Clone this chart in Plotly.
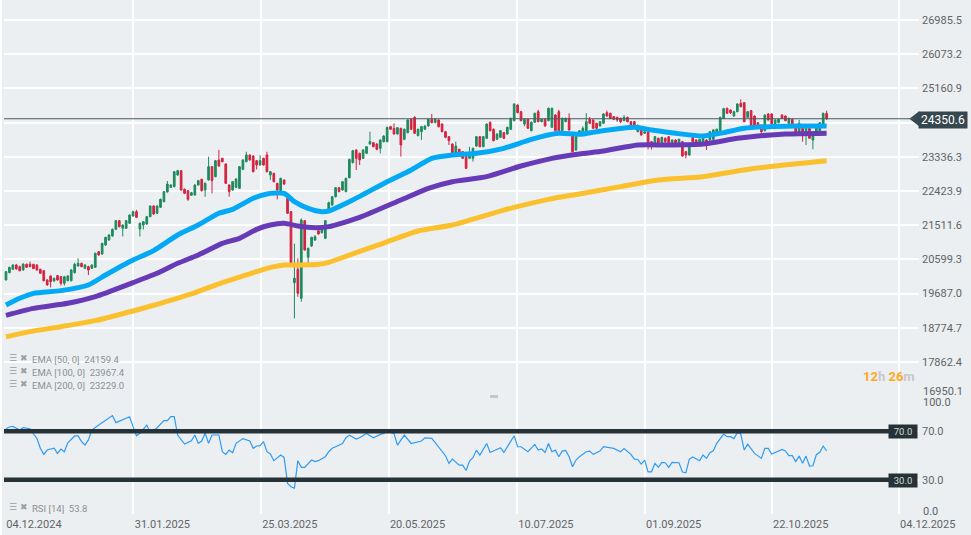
import plotly.graph_objects as go

opens = [20049,20245,20334,20449,20405,20316,20467,20467,20467,20449,20334,20298,
20049,20156,20022,20165,20138,19960,20031,20031,20245,20423,20494,20360,
20405,20360,20387,20805,20743,20983,21116,21223,21401,21632,21427,21427,
21561,21757,21872,21410,21516,21543,21739,22023,21828,21988,22139,22397,
22521,22539,22850,22966,22468,22432,22308,22317,22584,22735,22450,22717,
23073,22806,23251,23295,23144,22584,22450,22521,22495,23002,23206,23384,
23357,23233,23117,23295,23384,22850,22895,22628,22432,22717,22228,21872,
19978,20334,19560,21632,20654,20956,21116,21365,21312,21161,21872,22050,
22272,22512,22450,22406,22779,23179,23517,23428,23295,23428,23677,23713,
23677,23562,23740,23740,24140,24095,23944,24095,23802,23980,24335,24389,
23900,24006,24069,24158,24335,24246,24318,24211,24006,23873,23677,23428,
23535,23473,23339,23295,23295,23624,23873,23606,23829,24255,24069,23802,
23855,23980,23944,24069,24300,24718,24540,24211,24335,24033,24255,24540,
24273,24335,24300,24122,24451,24540,24033,24273,24362,23962,23517,23962,
23980,24006,24335,24318,24229,24158,24229,24513,24496,24407,24389,24362,
24300,24389,24273,24273,24006,24051,23962,24006,23740,23713,23829,23713,
23829,23873,23713,23784,23713,23740,23473,23384,23846,23784,23713,23713,
23784,23784,23802,23962,24033,24362,24629,24584,24424,24540,24762,24780,
24389,24567,24424,24246,24184,24033,24478,24478,24184,24246,24451,24424,
24229,24335,24122,24006,24095,24006,24095,23784,23944,24006,24211,24496]
closes = [20271,20387,20449,20343,20298,20476,20387,20405,20352,20316,20227,20031,
19916,20005,20094,20049,19960,20138,20156,20316,20467,20494,20405,20449,
20316,20449,20761,20716,21027,21187,21250,21401,21632,21472,21516,21632,
21783,21872,21721,21561,21605,21739,22023,21810,22023,22201,22406,22610,
22584,22939,22966,22450,22361,22201,22379,22584,22699,22432,22628,23073,
22699,23233,23091,23206,22628,22406,22673,22744,23073,23251,23384,23251,
22939,23117,23233,23117,22939,22939,22673,22450,22761,22610,21828,20494,
20094,19693,21650,20850,20894,21187,21205,21276,21427,21632,22112,22272,
22512,22406,22672,22761,23268,23499,23295,23250,23517,23606,23740,23606,
23535,23784,23891,24122,24069,23944,24113,23651,24069,24318,24069,23962,
24069,24140,24158,24335,24246,24335,24140,24006,23855,23766,23446,23624,
23428,23295,23028,23428,23562,23873,23606,23873,24211,24033,23766,23944,
24033,23829,24122,24362,24745,24513,24300,24335,24095,24255,24496,24273,
24335,24158,24629,24629,24033,24033,24362,24362,24051,23473,23873,24033,
24095,24273,24229,24095,24095,24273,24478,24424,24362,24335,24318,24273,
24389,24273,24184,24158,24095,23917,24006,23695,23695,23873,23713,23855,
23740,23713,23784,23713,23802,23357,23384,23588,23740,23713,23802,23829,
23713,24006,24051,24069,24389,24620,24496,24513,24540,24745,24673,24273,
24540,24158,24184,24158,24006,24451,24318,24211,24318,24335,24362,24300,
24362,24211,24006,24229,24006,24095,23829,23962,24095,24246,24496,24350]
highs = [20290,20400,20470,20480,20430,20490,20490,20540,20480,20470,20350,20310,
20070,20170,20110,20180,20150,20160,20180,20340,20510,20630,20510,20470,
20430,20470,20780,20820,21040,21200,21270,21420,21650,21650,21530,21650,
21800,21900,21920,21580,21620,21760,22040,22040,22040,22220,22420,22690,
22600,22950,22990,22980,22490,22450,22400,22600,22720,22750,22650,23340,
23090,23250,23520,23310,23160,22600,22690,22760,23090,23270,23470,23400,
23370,23250,23380,23310,23470,22950,22910,22640,22780,22730,22250,21890,
21020,20630,21690,21650,20910,21200,21250,21380,21500,21650,22140,22290,
22530,22530,22690,22780,23280,23520,23535,23445,23535,23625,24006,23730,
23700,23800,23910,24140,24160,24229,24130,24110,24090,24335,24350,24420,
24090,24160,24175,24350,24478,24360,24335,24230,24025,23890,23695,23740,
23555,23490,23355,23605,23580,23890,23890,23890,24230,24275,24090,23960,
24050,24000,24140,24380,24760,24735,24560,24355,24355,24275,24510,24590,
24355,24355,24650,24650,24470,24590,24380,24380,24495,23980,23890,24050,
24150,24500,24400,24335,24245,24290,24495,24570,24510,24425,24405,24380,
24450,24405,24290,24290,24200,24070,24020,24025,23755,23890,23845,23870,
23855,23890,23800,23805,23820,23760,23490,23605,23865,23805,23820,23845,
23805,24025,24070,24090,24405,24640,24650,24600,24560,24765,24870,24795,
24560,24585,24440,24265,24200,24470,24495,24495,24335,24355,24470,24440,
24380,24355,24140,24318,24110,24110,24110,23980,24110,24265,24515,24567]
lows = [20040,20230,20320,20330,20280,20300,20370,20390,20340,20300,20210,20010,
19900,19850,20000,20030,19900,19900,20010,20010,20220,20400,20390,20340,
20180,20340,20370,20700,20720,20960,21100,21200,21380,21450,21210,21410,
21540,21740,21700,21210,21400,21520,21720,21790,21810,21970,22120,22380,
22510,22520,22830,22430,22340,22160,22290,22300,22570,22410,22270,22700,
22360,22790,23070,23190,22610,22270,22430,22500,22480,22980,23190,23230,
22920,23000,23100,23100,22920,22720,22650,22200,22410,22590,21810,20470,
19027,19600,19470,20830,20490,20930,21090,21260,21290,21140,21850,22030,
22250,22390,22430,22390,22760,23160,22984,23117,23280,23410,23660,23590,
23510,23428,23720,23720,24050,23930,23930,23340,23780,23960,24050,23945,
23880,23785,24050,24140,24230,24230,24120,23990,23835,23650,23430,23410,
23410,23280,23010,23280,23206,23600,23590,23590,23810,24015,23750,23785,
23840,23810,23925,24050,24285,24495,24285,24150,24080,24015,24240,24255,
24255,24140,24285,24105,24015,24015,24015,24255,24035,23455,23500,23945,
23960,23990,24210,24080,24080,24140,24210,24410,24345,24320,24270,24230,
24285,24255,24165,24140,23990,23900,23945,23535,23530,23695,23695,23610,
23640,23695,23600,23695,23695,23340,23295,23365,23725,23695,23695,23695,
23517,23765,23785,23945,24015,24345,24480,24480,24405,24525,24655,24255,
24370,24140,24165,24140,23917,24015,24300,24195,24165,24230,24345,24285,
24210,24195,23990,23990,23740,23651,23810,23535,23925,23990,24195,24320]
bars = list(range(len(closes)))

ema50_bars = [0,4,8,16,24,29,36,43,50,56,62,66,72,76,81,84,88,92,94,101,111,118,124,130,137,145,153,161,167,172,183,188,195,203,209,215,222,230,239]
ema50 = [19382,19560,19693,19765,19916,20183,20538,20832,21250,21517,21828,21934,22228,22344,22361,22139,21961,21872,21890,22183,22672,22984,23295,23384,23428,23562,23802,23962,23935,24006,24122,24051,23962,23891,23980,24095,24140,24158,24159]
ema100_bars = [0,8,18,26,37,44,50,56,63,68,73,77,81,85,90,94,103,115,123,130,140,150,159,167,174,184,193,203,213,219,227,239]
ema100 = [19107,19293,19427,19604,19978,20227,20494,20716,21027,21161,21401,21517,21561,21490,21445,21472,21720,22183,22494,22672,22806,23090,23295,23410,23490,23651,23651,23677,23829,23891,23944,23967]
ema200_bars = [0,7,16,26,37,45,54,63,70,76,81,86,91,94,100,110,120,130,145,158,167,179,190,203,215,224,239]
ema200 = [18530,18671,18804,18964,19222,19427,19676,19978,20183,20360,20449,20449,20467,20520,20715,21035,21356,21516,21915,22201,22343,22539,22717,22806,22984,23090,23229]

rsi_bars = [0,1,2,3,4,5,7,8,9,10,11,12,13,14,15,16,17,18,20,21,22,23,24,25,27,28,30,31,32,34,36,37,38,39,41,42,44,46,47,48,49,50,52,54,55,56,57,58,59,60,62,63,64,65,66,67,69,71,72,73,74,75,76,77,78,80,81,82,83,84,85,86,87,89,90,91,93,94,95,
96,98,99,100,102,103,105,107,109,110,111,112,113,114,116,118,121,122,124,128,129,130,132,133,134,135,136,137,138,140,141,144,145,148,149,150,152,154,155,156,157,158,159,160,161,162,163,164,165,166,167,169,170,171,173,174,177,179,180,182,183,184,185,186,187,188,
189,190,191,192,193,194,196,197,198,199,200,202,203,204,205,206,207,209,210,211,212,213,214,215,216,218,220,221,222,223,224,226,227,228,229,230,231,232,233,234,235,236,237,238,239]
rsi = [72.2,73.6,74.1,72.5,71.1,73,72.2,67.8,64.2,56,51,54.6,55.7,56.2,51.8,55.4,53.2,60.6,66.2,66.2,61.5,58.7,62.9,71.1,75.2,77.2,80.8,83,77.2,79.4,82.1,73.9,66.4,68.4,75.2,68.9,73,78.8,78.8,82.1,82.1,67,59.5,62.3,67,60.1,62,68.4,60.1,67,67,53.2,51,54.6,52.4,60.1,64,62,56,57.9,58.2,61.5,53.2,51.3,45.8,50.5,48.5,27,24.3,23.2,45.8,40.3,40.3,46.3,45,45.8,49.1,53.2,56,
57.3,60,64.7,66.9,63.6,64.7,68.3,64.7,67.5,68.3,70.2,69.1,68.3,58.7,66.9,60,62,64.7,64.2,49.9,43.5,47.1,42.1,42.1,37.7,45.4,48.2,54.5,50.4,60,52.6,56.5,52.6,66.4,57.3,57.3,53.2,59.2,54.5,55.4,52.6,60,53.2,54.5,49,53.7,54.3,49,40.8,46.3,49,53.2,53.7,51,53.7,57.3,55.9,53.2,55.9,51,47.1,46.8,43,46.3,36.6,36.6,
43.6,40.3,44.4,44.1,40.3,44.4,44.1,36.4,35.8,46.9,48.8,45.8,50.5,47.7,52.4,54,60.1,67.8,65.6,65.6,64,68.9,67.8,54.6,59.5,51.8,47.7,56,56,51.3,52.4,55.1,53.8,49.9,49.9,45,49.6,43.6,49.6,41.4,41.6,50.7,52.7,57.9,53.8]

price_ticks = [26985.5,26073.2,25160.9,24248.6,23336.3,22423.9,21511.6,20599.3,19687.0,18774.7,17862.4,16950.1]
price_labels = ["26985.5","26073.2","25160.9","","23336.3","22423.9","21511.6","20599.3","19687.0","18774.7","17862.4",""]
rsi_ticks = [100,70,30,1.8]
rsi_labels = ["","70.0","30.0",""]
date_ticks = [-0.3,37.1,74.2,111.4,148.8,186,223,260]
date_labels = ["04.12.2024","31.01.2025","25.03.2025","20.05.2025","10.07.2025","01.09.2025","22.10.2025","04.12.2025"]
last_price = 24350.6

W, H = 971, 535
BG = "#eceff1"
TXT = "#5f6468"
DARK = "#263238"
FONT = "Roboto"

def px(x):
    return x / W

def py(y):
    return 1 - y / H

fig = go.Figure()
fig.add_trace(go.Candlestick(x=bars, open=opens, high=highs, low=lows, close=closes,
    increasing=dict(line=dict(color="#1f8a5e", width=1), fillcolor="#1f8a5e"),
    decreasing=dict(line=dict(color="#d3233f", width=1), fillcolor="#d3233f"),
    whiskerwidth=0, hoverinfo="skip"))
fig.add_trace(go.Scatter(x=ema200_bars, y=ema200, mode="lines", line=dict(color="#fbc02d", width=5, shape="spline", smoothing=0.6)))
fig.add_trace(go.Scatter(x=ema100_bars, y=ema100, mode="lines", line=dict(color="#673ab7", width=5, shape="spline", smoothing=0.6)))
fig.add_trace(go.Scatter(x=ema50_bars, y=ema50, mode="lines", line=dict(color="#03a9f4", width=5, shape="spline", smoothing=0.6)))
fig.add_trace(go.Scatter(x=rsi_bars, y=rsi, mode="lines", yaxis="y2", line=dict(color="#2f9bf5", width=1.2)))
# arrow point of the last price tag
fig.add_trace(go.Scatter(x=[265], y=[last_price], mode="markers", cliponaxis=False,
    marker=dict(symbol="triangle-left", size=13, color="#37474f")))

# price line and the two RSI levels
fig.add_hline(y=last_price, line=dict(color="#455a64", width=1), yref="y", x1=0.995)
fig.add_shape(type="line", xref="paper", x0=px(4), x1=px(890), yref="y2", y0=70, y1=70, line=dict(color=DARK, width=4.5))
fig.add_shape(type="line", xref="paper", x0=px(4), x1=px(890), yref="y2", y0=30, y1=30, line=dict(color=DARK, width=4.5))
# small drag handle between panels
fig.add_shape(type="rect", xref="paper", yref="paper", x0=px(490), x1=px(498), y0=py(398), y1=py(395),
    fillcolor="#c4c8cb", line_width=0)
fig.add_shape(type="rect", xref="paper", yref="paper", x0=0, x1=px(2), y0=0, y1=1,
    fillcolor="#ffffff", line_width=0)

def label(x, y, text, size=11, color=TXT, anchor="left", **kw):
    fig.add_annotation(xref="paper", yref="paper", x=px(x), y=py(y), text=text, showarrow=False,
        xanchor=anchor, yanchor="middle", font=dict(family=FONT, size=size, color=color), **kw)

label(918, 119.5, "24350.6", size=12, color="#ffffff", bgcolor="#37474f", borderpad=1, width=46, height=14)
label(888, 431.7, "70.0", size=9.5, color="#d5dadd", bgcolor=DARK, borderpad=1, width=26, height=11, align="center")
label(888, 480, "30.0", size=9.5, color="#d5dadd", bgcolor=DARK, borderpad=1, width=26, height=11, align="center")
label(921, 391, "16950.1")
label(921, 402, "100.0")
label(921, 511, "0.0")
label(861, 376, '<b><span style="color:#ffa726">12</span><span style="color:#c4c8cb">h</span> '
    '<span style="color:#ffa726">26</span><span style="color:#c4c8cb">m</span></b>', size=13)

legend_color = "#8b9094"
for y, text in [(359, "EMA [50, 0]  24159.4"), (372, "EMA [100, 0]  23967.4"), (385, "EMA [200, 0]  23229.0"), (508, "RSI [14]  53.8")]:
    fig.add_annotation(xref="paper", yref="paper", x=px(7), y=py(y - 1), text="\u2630 \u2716", showarrow=False,
        xanchor="left", yanchor="middle", font=dict(family="DejaVu Sans", size=9, color="#9a9ea1"))
    label(30, y, text, size=9.5, color=legend_color)

fig.update_layout(
    width=W, height=H, margin=dict(l=0, r=0, t=0, b=0), autosize=False,
    paper_bgcolor=BG, plot_bgcolor=BG, showlegend=False,
    font=dict(family=FONT, size=11, color=TXT),
    xaxis=dict(domain=[px(4), px(919)], range=[-0.58, 265.9], anchor="y2", automargin=False,
        tickmode="array", tickvals=date_ticks, ticktext=date_labels, ticklabelshift=29, ticklabelstandoff=2,
        showgrid=True, gridcolor="#ffffff", gridwidth=1.5, zeroline=False, showline=False, ticks="",
        rangeslider=dict(visible=False), tickfont=dict(family=FONT, size=11, color=TXT)),
    yaxis=dict(domain=[py(396), 1], range=[16954, 27519], side="right", anchor="x", automargin=False,
        tickmode="array", tickvals=price_ticks, ticktext=price_labels,
        showgrid=True, gridcolor="#ffffff", gridwidth=1.5, zeroline=False, showline=False, ticks="",
        tickfont=dict(family=FONT, size=11, color=TXT), ticklabelstandoff=2),
    yaxis2=dict(domain=[py(514), py(395)], range=[1.8, 100], side="right", anchor="x", automargin=False,
        tickmode="array", tickvals=rsi_ticks, ticktext=rsi_labels,
        showgrid=True, gridcolor="#ffffff", gridwidth=1.5, zeroline=False, showline=False, ticks="",
        tickfont=dict(family=FONT, size=11, color=TXT), ticklabelstandoff=2),
)
fig.write_html("out.html", config=dict(displayModeBar=False),
    post_script="document.body.style.margin='0';document.body.style.background='#eceff1';")
